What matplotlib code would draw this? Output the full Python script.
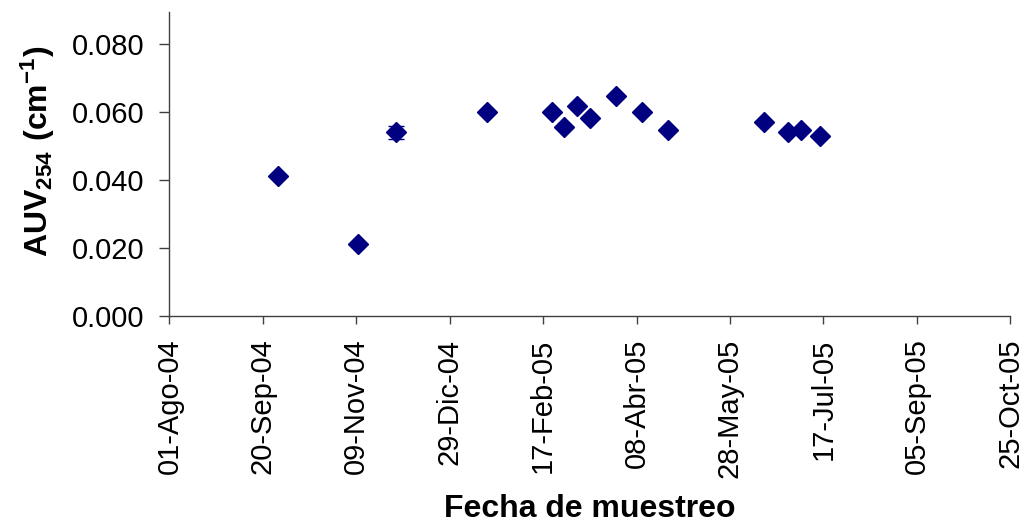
import datetime as dt
import matplotlib
matplotlib.use("Agg")
from matplotlib import pyplot as plt

plt.rcParams['font.family'] = ['Liberation Sans', 'DejaVu Sans']
plt.rcParams['mathtext.fontset'] = 'custom'
plt.rcParams['mathtext.rm'] = 'Liberation Sans'
plt.rcParams['mathtext.bf'] = 'Liberation Sans:bold'

# sampling dates and AUV254 readings
fechas = ["2004-09-28", "2004-11-10", "2004-11-30", "2005-01-18", "2005-02-22",
          "2005-02-28", "2005-03-07", "2005-03-14", "2005-03-28", "2005-04-11",
          "2005-04-25", "2005-06-15", "2005-06-28", "2005-07-05", "2005-07-15"]
auv = [0.0411, 0.0212, 0.0541, 0.0600, 0.0600,
       0.0556, 0.0618, 0.0582, 0.0647, 0.0600,
       0.0547, 0.0571, 0.0541, 0.0547, 0.0529]
err = [0.0, 0.0, 0.0019, 0.0, 0.0, 0.0, 0.0, 0.0, 0.0, 0.0, 0.0, 0.0, 0.0, 0.0, 0.0]

tick_dates = ["2004-08-01", "2004-09-20", "2004-11-09", "2004-12-29", "2005-02-17",
              "2005-04-08", "2005-05-28", "2005-07-17", "2005-09-05", "2005-10-25"]
tick_labels = ["01-Ago-04", "20-Sep-04", "09-Nov-04", "29-Dic-04", "17-Feb-05",
               "08-Abr-05", "28-May-05", "17-Jul-05", "05-Sep-05", "25-Oct-05"]
y_ticks = [0.0, 0.02, 0.04, 0.06, 0.08]

x = [dt.datetime.strptime(d, "%Y-%m-%d") for d in fechas]
xt = [dt.datetime.strptime(d, "%Y-%m-%d") for d in tick_dates]

fig = plt.figure(figsize=(10.24, 5.25), dpi=100)
ax = fig.add_axes([0.1655, 0.3975, 0.821, 0.58])

ax.errorbar(x, auv, yerr=err, fmt='none', ecolor='#000080', elinewidth=1,
            capsize=6, capthick=1, zorder=2)
ax.plot(x, auv, linestyle='none', marker='D', markersize=10.5,
        color='#000080', zorder=3)

ax.set_xlim(xt[0], xt[-1])
ax.set_ylim(0, 0.0895)
ax.set_xticks(xt)
ax.set_xticklabels(tick_labels, rotation=90)
ax.set_yticks(y_ticks)
ax.set_yticklabels(["%.3f" % v for v in y_ticks])

for s in ['top', 'right']:
    ax.spines[s].set_visible(False)
for s in ['left', 'bottom']:
    ax.spines[s].set_color('#404040')
    ax.spines[s].set_linewidth(1)
ax.tick_params(axis='both', direction='out', width=1,
               color='#404040', labelsize=21)
ax.tick_params(axis='y', length=7, pad=11)
ax.tick_params(axis='x', length=6, pad=10)

ax.set_ylabel(r"$\mathbf{AUV_{254}\ (cm^{-1})}$", fontsize=23)
ax.yaxis.set_label_coords(-0.134, 0.54)
ax.set_xlabel("Fecha de muestreo", fontsize=23, fontweight='bold', labelpad=12)

fig.savefig("out.png", dpi=100)
